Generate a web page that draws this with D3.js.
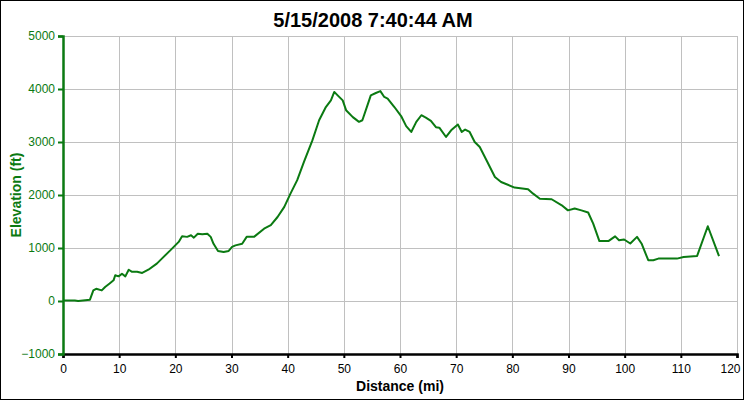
<!DOCTYPE html>
<html>
<head>
<meta charset="utf-8">
<script src="https://cdn.jsdelivr.net/npm/d3@7"></script>
<style>
  html, body { margin: 0; padding: 0; background: #fff; }
  svg { display: block; }
</style>
</head>
<body>
<svg id="chart" width="744" height="400"></svg>
<script>
const title = "5/15/2008 7:40:44 AM";
const xLabel = "Distance (mi)";
const yLabel = "Elevation (ft)";
const xTicks = [0, 10, 20, 30, 40, 50, 60, 70, 80, 90, 100, 110, 120];
const yTicks = [-1000, 0, 1000, 2000, 3000, 4000, 5000];

const distance = [0, 2.1, 2.7, 4.8, 5.4, 5.9, 6.9, 7.5, 8.3, 9.0, 9.3, 9.9, 10.5, 11.1, 11.7, 12.3, 13.2, 14.1, 15.2, 16.7, 17.6, 19.1, 20.6, 21.2, 22.1, 22.8, 23.3, 24.0, 24.8, 25.7, 26.3, 26.8, 27.6, 28.6, 29.5, 30.1, 30.7, 31.9, 32.7, 34.0, 35.8, 37.0, 38.2, 39.4, 40.5, 41.7, 42.9, 44.4, 45.6, 46.8, 47.7, 48.3, 48.9, 49.8, 50.4, 51.6, 52.7, 53.3, 54.2, 54.8, 55.7, 56.5, 57.2, 57.8, 59.0, 60.2, 61.1, 62.0, 62.9, 63.8, 64.6, 65.5, 66.4, 67.0, 68.2, 69.1, 70.3, 71.0, 71.6, 72.4, 73.3, 74.2, 75.4, 76.9, 78.0, 80.4, 82.8, 83.7, 84.9, 87.0, 88.8, 89.9, 91.1, 92.3, 93.5, 94.4, 95.5, 97.1, 98.3, 99.0, 99.9, 101.0, 102.2, 103.0, 104.2, 105.1, 106.0, 109.3, 110.5, 112.9, 114.8, 116.8];
const elevation = [10, 10, 0, 25, 200, 230, 200, 265, 330, 390, 485, 465, 515, 465, 590, 550, 550, 530, 590, 705, 800, 955, 1115, 1220, 1210, 1240, 1195, 1270, 1260, 1270, 1210, 1080, 945, 925, 945, 1020, 1050, 1080, 1210, 1210, 1365, 1430, 1585, 1775, 2025, 2280, 2625, 3030, 3410, 3660, 3785, 3945, 3880, 3785, 3600, 3470, 3380, 3410, 3690, 3880, 3925, 3960, 3850, 3820, 3660, 3490, 3300, 3190, 3380, 3505, 3460, 3400, 3280, 3270, 3095, 3220, 3330, 3190, 3235, 3190, 3000, 2905, 2655, 2340, 2245, 2140, 2110, 2025, 1930, 1920, 1805, 1710, 1745, 1710, 1670, 1460, 1130, 1130, 1220, 1145, 1160, 1085, 1210, 1085, 770, 770, 800, 800, 830, 850, 1410, 845];

const svg = d3.select("#chart");
const W = 744, H = 400;
const mLeft = 63, mRight = 737, mTop = 36, mBottom = 354;
const green = "#0b7a12";
const font = "Liberation Sans, Arial, sans-serif";

svg.append("rect").attr("x", 0.5).attr("y", 0.5).attr("width", W - 1).attr("height", H - 1)
  .attr("fill", "#fff").attr("stroke", "#000").attr("stroke-width", 1);

const x = d3.scaleLinear().domain([0, 120]).range([mLeft, mRight]);
const y = d3.scaleLinear().domain([-1000, 5000]).range([mBottom, mTop]);

// grid
const grid = svg.append("g").attr("stroke", "#c0c0c0").attr("stroke-width", 1).attr("shape-rendering", "crispEdges");
grid.selectAll("line.v").data(xTicks.slice(1)).join("line").attr("class", "v")
  .attr("x1", d => Math.round(x(d)) + 0.5).attr("x2", d => Math.round(x(d)) + 0.5)
  .attr("y1", mTop).attr("y2", mBottom);
grid.selectAll("line.h").data(yTicks).join("line").attr("class", "h")
  .attr("x1", mLeft).attr("x2", mRight)
  .attr("y1", d => Math.round(y(d)) + 0.5).attr("y2", d => Math.round(y(d)) + 0.5);

// line
const pts = distance.map((d, i) => [d, elevation[i]]);
svg.append("path").datum(pts)
  .attr("fill", "none").attr("stroke", green).attr("stroke-width", 2)
  .attr("stroke-linejoin", "round")
  .attr("d", d3.line().x(d => x(d[0])).y(d => y(d[1])));

// x axis
const xAxis = svg.append("g").attr("transform", `translate(0,${mBottom})`)
  .call(d3.axisBottom(x).tickValues(xTicks).tickSize(4).tickPadding(6).tickFormat(d3.format("d")));
xAxis.select(".domain").attr("stroke", "#000").attr("stroke-width", 2.5);
xAxis.selectAll(".tick line").attr("stroke", "#000").attr("stroke-width", 2);
xAxis.selectAll("text").attr("fill", "#000").style("font-family", font).style("font-size", "12px");
xAxis.selectAll(".tick").filter(d => d === xTicks[xTicks.length - 1]).select("text")
  .attr("text-anchor", "end").attr("x", 3);

// y axis
const yAxis = svg.append("g").attr("transform", `translate(${mLeft},0)`)
  .call(d3.axisLeft(y).tickValues(yTicks).tickSize(5).tickPadding(3).tickFormat(d3.format("d")));
yAxis.select(".domain").attr("stroke", green).attr("stroke-width", 2.5);
yAxis.selectAll(".tick line").attr("stroke", green).attr("stroke-width", 2);
yAxis.selectAll("text").attr("fill", green).style("font-family", font).style("font-size", "12px");

// titles
svg.append("text").attr("x", 373).attr("y", 27).attr("text-anchor", "middle")
  .style("font-family", font).style("font-size", "20px").style("font-weight", "bold")
  .attr("fill", "#000").text(title);
svg.append("text").attr("x", 400).attr("y", 391).attr("text-anchor", "middle")
  .style("font-family", font).style("font-size", "14px").style("font-weight", "bold")
  .attr("fill", "#000").text(xLabel);
svg.append("text").attr("transform", "translate(21,195) rotate(-90)").attr("text-anchor", "middle")
  .style("font-family", font).style("font-size", "14px").style("font-weight", "bold")
  .attr("fill", green).text(yLabel);
</script>
</body>
</html>
